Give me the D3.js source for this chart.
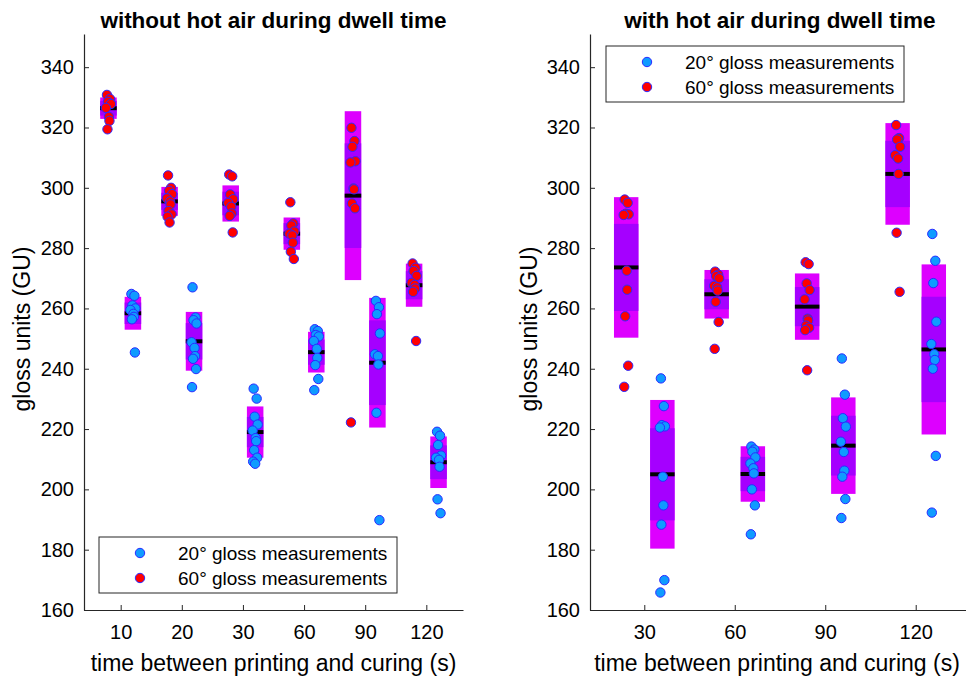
<!DOCTYPE html>
<html><head><meta charset="utf-8">
<script src="https://cdn.jsdelivr.net/npm/d3@7"></script>
<style>body{margin:0;background:#fff}svg{display:block}text{font-family:"Liberation Sans",Arial,sans-serif}</style>
</head><body><svg id="c" width="966" height="678"></svg>
<script>
// ---------- DATA ----------
const leftCats = ["10","20","30","60","90","120"];
const rightCats = ["30","60","90","120"];
const yTicks = [160,180,200,220,240,260,280,300,320,340];

// without hot air: 60° measurements
const left60 = [
  [330.8,329.5,328.5,327.8,326.5,323.5,322.2,319.4],
  [304.1,300.0,299.0,297.9,296.5,295.5,294.5,292.3,291.2,290.4,288.5],
  [304.4,303.8,297.8,296.2,295.0,293.7,291.5,290.7,285.2],
  [295.2,288.2,287.5,285.5,284.8,284.2,281.8,278.8,276.4],
  [319.9,315.5,313.6,308.8,308.4,299.8,299.5,294.8,293.2,222.2],
  [274.9,273.5,272.4,270.8,268.5,267.8,266.6,265.5,249.2]
];
const left60Mean = [326.4,295.5,294.8,284.8,297.4,267.7];
const left60SD   = [3.55,4.8,6.0,5.35,28.0,7.15];
// without hot air: 20° measurements
const left20 = [
  [264.8,264.2,261.0,260.0,259.5,258.2,257.2,256.4,245.4],
  [267.0,257.0,256.1,255.0,248.8,246.9,244.2,243.3,239.9,233.9],
  [233.4,230.1,224.1,221.5,219.5,217.0,216.0,213.0,210.5,209.2,208.5],
  [253.1,252.5,251.2,250.7,249.2,246.6,243.6,241.2,236.6,232.9],
  [262.5,260.4,258.1,251.7,244.8,244.2,241.4,225.4,189.8],
  [219.1,217.8,214.7,211.2,210.5,209.8,207.5,196.7,192.1]
];
const left20Mean = [258.4,249.1,219.0,245.5,242.0,209.0];
const left20SD   = [5.45,9.75,8.5,6.75,21.5,8.55];

// with hot air: 60° measurements
const right60 = [
  [296.1,295.0,291.4,291.2,291.0,272.5,266.2,257.4,241.0,234.0],
  [272.2,271.2,270.7,270.0,267.5,267.0,265.9,262.2,255.5,246.6],
  [275.3,274.7,268.3,266.1,263.0,256.6,256.0,254.3,253.6,252.8,239.5],
  [320.8,316.5,316.0,313.6,310.8,309.7,304.6,285.1,265.5]
];
const right60Mean = [273.6,264.7,260.6,304.6];
const right60SD   = [23.3,8.05,11.0,16.85];
// with hot air: 20° measurements
const right20 = [
  [236.8,227.6,221.3,220.9,220.5,204.2,194.7,188.3,169.9,165.8],
  [214.2,213.2,212.5,210.6,208.6,207.0,205.3,200.0,194.7,185.1],
  [243.4,231.4,223.6,220.8,215.8,212.4,206.2,204.2,196.8,190.5],
  [284.7,275.8,268.4,255.6,248.2,244.8,242.9,240.0,211.1,192.3]
];
const right20Mean = [205.0,205.1,214.5,246.4];
const right20SD   = [24.65,9.2,16.0,28.2];

const legendLabels = ["20° gloss measurements","60° gloss measurements"];
const titles = ["without hot air during dwell time","with hot air during dwell time"];
const xLabel = "time between printing and curing (s)";
const yLabel = "gloss units (GU)";

// ---------- STYLE ----------
const C20 = "#0f9bff", C60 = "#ff0000", EDGE = "#2a2aff";
const SDCOL = "#dd00ff", CICOL = "#a500ff", AX = "#262626";
const jit = [-1.5,1.5,-0.5,2.5,-2.5,0.5,1.0,-1.0,2.0,-2.0,0];

const svg = d3.select("#c");
const y = d3.scaleLinear().domain([160,351]).range([610,34]);

function panel(cfg){
  const x = d3.scaleLinear().domain([0.4, cfg.cats.length+0.6]).range([cfg.x0, cfg.x1]);
  const g = svg.append("g");
  const bw = 0.27, off = 0.2;
  const groups = [];
  cfg.cats.forEach((c,i)=>{
    groups.push({pos:i+1-off, vals:cfg.d60[i], mean:cfg.m60[i], sd:cfg.s60[i], col:C60});
    groups.push({pos:i+1+off, vals:cfg.d20[i], mean:cfg.m20[i], sd:cfg.s20[i], col:C20});
  });
  const w = x(bw)-x(0);
  groups.forEach(gr=>{
    const ci = 1.96*gr.sd/Math.sqrt(gr.vals.length);
    const cx = x(gr.pos);
    g.append("rect").attr("x",cx-w/2).attr("width",w)
      .attr("y",y(gr.mean+gr.sd)).attr("height",y(gr.mean-gr.sd)-y(gr.mean+gr.sd)).attr("fill",SDCOL);
    g.append("rect").attr("x",cx-w/2).attr("width",w)
      .attr("y",y(gr.mean+ci)).attr("height",y(gr.mean-ci)-y(gr.mean+ci)).attr("fill",CICOL);
    g.append("line").attr("x1",cx-w/2).attr("x2",cx+w/2).attr("y1",y(gr.mean)).attr("y2",y(gr.mean))
      .attr("stroke","#000").attr("stroke-width",4);
  });
  groups.forEach(gr=>{
    const cx = x(gr.pos);
    g.selectAll(null).data(gr.vals).enter().append("circle")
      .attr("cx",(d,k)=>cx+jit[k%jit.length]).attr("cy",d=>y(d)).attr("r",4.7)
      .attr("fill",gr.col).attr("stroke",EDGE).attr("stroke-width",1);
  });
  // axes
  const ya = g.append("g").attr("transform",`translate(${cfg.x0},0)`)
    .call(d3.axisLeft(y).tickValues(yTicks).tickSizeInner(-5).tickSizeOuter(0).tickPadding(10));
  const xa = g.append("g").attr("transform",`translate(0,610)`)
    .call(d3.axisBottom(x).tickValues(d3.range(1,cfg.cats.length+1)).tickFormat((d)=>cfg.cats[d-1])
      .tickSizeInner(-5).tickSizeOuter(0).tickPadding(15));
  [ya,xa].forEach(a=>{
    a.select(".domain").attr("stroke",AX).attr("stroke-width",1.2);
    a.selectAll(".tick line").attr("stroke",AX);
    a.selectAll(".tick text").attr("fill","#000").style("font-size","20px").style("font-family","Liberation Sans, Arial, sans-serif");
  });
  g.append("text").attr("x",(cfg.x0+Math.min(cfg.x1,966))/2+cfg.tdx).attr("y",28).attr("text-anchor","middle")
    .style("font-size","22.5px").style("font-weight","bold").text(cfg.title);
  g.append("text").attr("x",(cfg.x0+cfg.x1)/2+cfg.xldx).attr("y",671).attr("text-anchor","middle")
    .style("font-size","23px").text(xLabel);
  g.append("text").attr("transform",`translate(${cfg.ylx},329) rotate(-90)`).attr("text-anchor","middle")
    .style("font-size","23px").text(yLabel);
  // legend
  const L = cfg.leg;
  const lg = g.append("g");
  lg.append("rect").attr("x",L.x).attr("y",L.y).attr("width",298).attr("height",56)
    .attr("fill","#fff").attr("stroke",AX).attr("stroke-width",1);
  [C20,C60].forEach((col,k)=>{
    const yy = L.y+16+k*25;
    lg.append("circle").attr("cx",L.x+41).attr("cy",yy).attr("r",4.7).attr("fill",col).attr("stroke",EDGE);
    lg.append("text").attr("x",L.x+79).attr("y",yy+7).style("font-size","19px").text(legendLabels[k]);
  });
}

panel({cats:leftCats,x0:84,x1:463,d60:left60,m60:left60Mean,s60:left60SD,d20:left20,m20:left20Mean,s20:left20SD,
  title:titles[0],tdx:0,xldx:0,ylx:30,leg:{x:99,y:537}});
panel({cats:rightCats,x0:590,x1:970,d60:right60,m60:right60Mean,s60:right60SD,d20:right20,m20:right20Mean,s20:right20SD,
  title:titles[1],tdx:2,xldx:-3,ylx:537,leg:{x:606,y:46}});
</script></body></html>
